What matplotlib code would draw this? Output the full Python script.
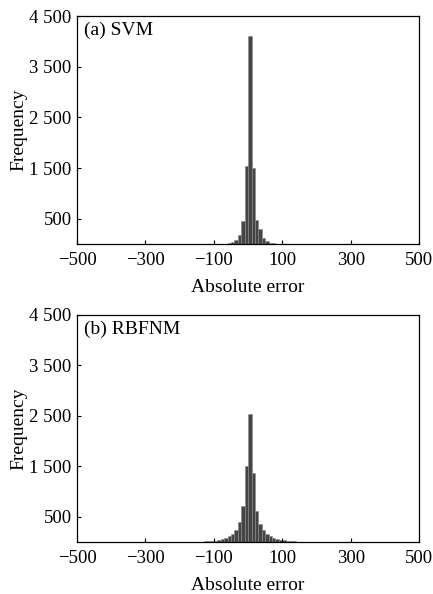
import numpy as np
import matplotlib
matplotlib.use("Agg")
import matplotlib.pyplot as plt

plt.rcParams['font.family'] = ['Liberation Serif', 'DejaVu Serif']

# bin left edges (width 10) and counts
svm_edges = [-130, -120, -110, -100, -90, -80, -70, -60, -50, -40, -30, -20, -10,
             0, 10, 20, 30, 40, 50, 60, 70, 80, 90, 100, 110, 120, 130]
svm_counts = [5, 5, 6, 6, 6, 8, 10, 15, 45, 90, 190, 450, 1550,
              4110, 1510, 480, 290, 130, 60, 30, 15, 10, 8, 6, 5, 5, 5]

rbf_edges = [-450, -420, -380, -350, -300, -260, -220, -180, -150, -130, -120, -110, -100,
             -90, -80, -70, -60, -50, -40, -30, -20, -10,
             0, 10, 20, 30, 40, 50, 60, 70, 80, 90, 100, 110, 120, 130, 140, 150,
             170, 200, 250, 300, 350, 400, 450, 470]
rbf_counts = [6, 5, 8, 6, 8, 6, 8, 8, 10, 12, 15, 20, 30,
              46, 60, 80, 112, 160, 240, 390, 706, 1510,
              2540, 1360, 620, 365, 245, 158, 112, 80, 60, 46, 35, 25, 18, 14, 10, 10,
              8, 8, 6, 8, 5, 5, 6, 5]

panels = [("(a) SVM", svm_edges, svm_counts), ("(b) RBFNM", rbf_edges, rbf_counts)]
positions = [[0.178, 0.589, 0.790, 0.384], [0.178, 0.0875, 0.790, 0.383]]

fig = plt.figure(figsize=(4.33, 5.94), dpi=100)

for (name, edges, counts), pos in zip(panels, positions):
    ax = fig.add_axes(pos)
    ax.bar(edges, counts, width=10, align='edge', color='#454545',
           edgecolor='#8a8a8a', linewidth=0.4)
    ax.set_xlim(-500, 500)
    ax.set_ylim(0, 4500)
    ax.set_xticks([-500, -300, -100, 100, 300, 500])
    ax.set_xticklabels(['\u2212500', '\u2212300', '\u2212100', '100', '300', '500'])
    ax.set_yticks([500, 1500, 2500, 3500, 4500])
    ax.set_yticklabels(['500', '1 500', '2 500', '3 500', '4 500'])
    ax.tick_params(direction='in', length=3, width=0.8, labelsize=13.5, pad=4)
    ax.tick_params(axis='x', pad=6)
    for s in ax.spines.values():
        s.set_linewidth(0.9)
    ax.set_xlabel('Absolute error', fontsize=14, labelpad=7)
    ax.set_ylabel('Frequency', fontsize=14, labelpad=1)
    ax.text(0.02, 0.975, name, transform=ax.transAxes, ha='left', va='top', fontsize=14)

fig.savefig('out.png', dpi=100)
